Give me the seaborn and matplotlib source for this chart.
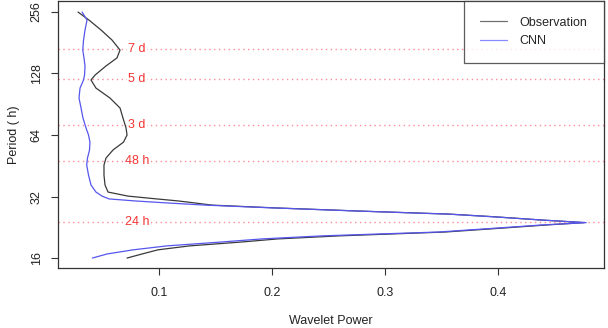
import numpy as np
import pandas as pd
import matplotlib
matplotlib.use("Agg")
import matplotlib.pyplot as plt
import seaborn as sns

# period (h) shared by both curves
periods = [255.1, 233.1, 208.4, 186.2, 166.4, 152.3, 139.0, 125.6, 118.8, 108.5,
           97.0, 86.7, 77.5, 69.3, 64.0, 59.1, 54.1, 49.4, 45.7, 40.8,
           36.5, 33.7, 32.2, 31.2, 30.5, 29.8, 29.1, 28.2, 27.2, 26.3,
           25.5, 24.6, 23.9, 23.3, 22.5, 21.5, 20.6, 19.9, 19.2, 18.4,
           17.6, 16.8, 16.05]

obs_power = [0.0283, 0.038, 0.0487, 0.0584, 0.0655, 0.0628, 0.053, 0.0434, 0.0398, 0.0442,
             0.0566, 0.0655, 0.0681, 0.0708, 0.0717, 0.0686, 0.0593, 0.0531, 0.0513, 0.0513,
             0.0522, 0.0549, 0.0726, 0.098, 0.117, 0.132, 0.147, 0.203, 0.279, 0.357,
             0.398, 0.439, 0.476, 0.444, 0.405, 0.353, 0.26, 0.205, 0.172, 0.127,
             0.099, 0.085, 0.0717]

cnn_power = [0.0319, 0.0363, 0.0345, 0.0332, 0.0325, 0.0336, 0.0345, 0.0341, 0.0332, 0.0301,
             0.0292, 0.031, 0.0327, 0.0354, 0.0376, 0.0389, 0.0385, 0.0367, 0.036, 0.0376,
             0.0398, 0.0442, 0.0496, 0.0558, 0.0788, 0.108, 0.141, 0.201, 0.278, 0.356,
             0.397, 0.439, 0.478, 0.440, 0.400, 0.347, 0.245, 0.191, 0.154, 0.107,
             0.077, 0.054, 0.041]

# reference periods marked with dotted lines
ref_periods = [168, 120, 72, 48, 24]
ref_labels = ["7 d", "5 d", "3 d", "48 h", "24 h"]

y_ticks = [16, 32, 64, 128, 256]
x_ticks = [0.1, 0.2, 0.3, 0.4]

series_colors = {"Observation": "#3a3a3a", "CNN": "#5656ee"}

df = pd.concat([
    pd.DataFrame({"period": periods, "power": obs_power, "series": "Observation"}),
    pd.DataFrame({"period": periods, "power": cnn_power, "series": "CNN"}),
])

sns.set_theme(style="white")
plt.rcParams["font.family"] = ["Liberation Sans", "DejaVu Sans"]

fig = plt.figure(figsize=(6.08, 3.28), dpi=100)
ax = fig.add_axes([58 / 608, 60 / 328, 546 / 608, 267 / 328])

for yv in ref_periods:
    ax.axhline(yv, color="#ff8a9a", lw=1.0, ls=(0, (1, 2.5)), zorder=1)

sns.lineplot(data=df, x="power", y="period", hue="series", palette=series_colors,
             orient="y", estimator=None, sort=False, lw=0.9, ax=ax, zorder=3)

for yv, lab in zip(ref_periods, ref_labels):
    ax.text(0.0805, yv, lab, color="#f23434", fontsize=9, ha="center", va="center",
            bbox=dict(facecolor="white", edgecolor="none", pad=1.0), zorder=2)

ax.set_yscale("log", base=2)
ax.set_ylim(14.35, 288.8)
ax.set_xlim(0.0106, 0.4938)
ax.set_yticks(y_ticks)
ax.set_yticklabels([str(t) for t in y_ticks])
ax.yaxis.set_minor_locator(matplotlib.ticker.NullLocator())
ax.set_xticks(x_ticks)
ax.set_xticklabels([str(t) for t in x_ticks])

ax.tick_params(axis="both", direction="out", length=5, width=0.8, color="#333333",
               labelsize=9, labelcolor="#222222", left=True, bottom=True)
ax.tick_params(axis="x", pad=9)
ax.tick_params(axis="y", pad=6)
plt.setp(ax.get_yticklabels(), rotation=90, va="center")

for s in ax.spines.values():
    s.set_visible(True)
    s.set_color("#333333")
    s.set_linewidth(0.9)

ax.set_xlabel("Wavelet Power", fontsize=9, color="#222222", labelpad=11)
ax.set_ylabel("Period ( h)", fontsize=9, color="#222222", labelpad=8)

handles, labels = ax.get_legend_handles_labels()
leg = ax.legend(handles, labels, loc="upper left",
                bbox_to_anchor=((464 - 58) / 546, 0, (604 - 464) / 546, 1),
                mode="expand", borderaxespad=0, frameon=True, fancybox=False,
                fontsize=9, handlelength=2.16, handletextpad=1.04,
                labelspacing=0.5, borderpad=1.25, edgecolor="#333333")
leg.get_frame().set_linewidth(0.9)
leg.get_lines()[0].set_color("#707070")
leg.get_lines()[1].set_color("#8888ff")

fig.savefig("out.png", dpi=100)
